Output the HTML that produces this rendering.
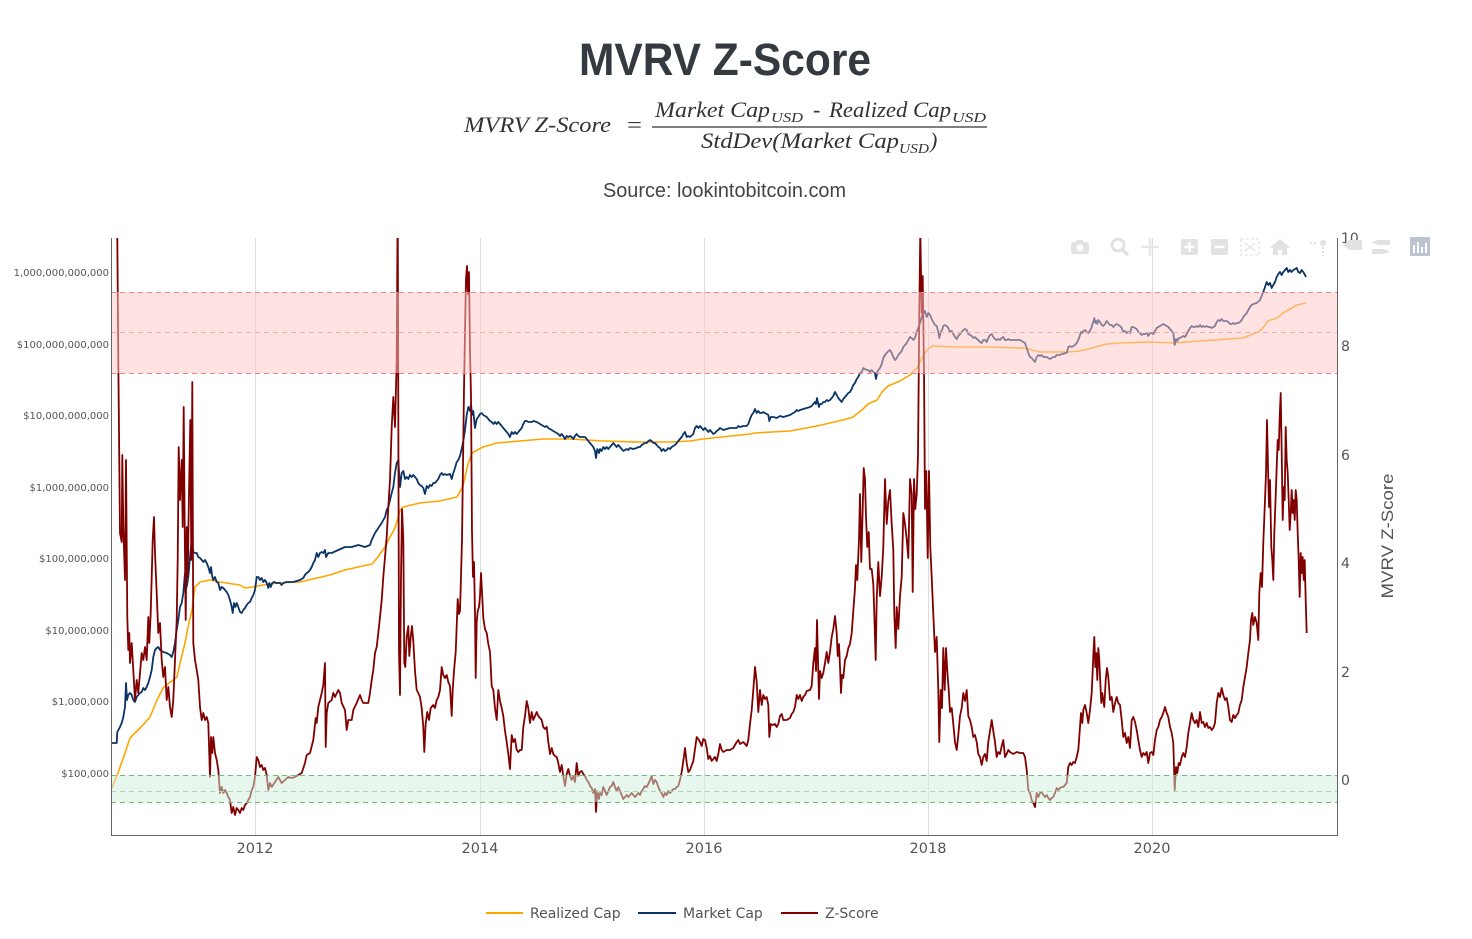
<!DOCTYPE html>
<html><head><meta charset="utf-8"><style>
html,body{margin:0;padding:0;background:#fff;}
svg{display:block;}
</style></head><body>
<svg width="1472" height="939" viewBox="0 0 1472 939" xmlns="http://www.w3.org/2000/svg">
<defs><clipPath id="pc"><rect x="111" y="238" width="1226" height="597"/></clipPath></defs>
<rect width="1472" height="939" fill="#fff"/>
<!-- Title & formula -->
<text x="579" y="75" font-family="'Liberation Sans',sans-serif" font-weight="bold" font-size="45" fill="#343a40" textLength="292" lengthAdjust="spacingAndGlyphs">MVRV Z-Score</text>
<g font-family="'Liberation Serif',serif" font-style="italic" fill="#333">
<text x="464" y="132" font-size="22" textLength="147" lengthAdjust="spacingAndGlyphs">MVRV Z-Score</text>
<text x="627" y="132" font-size="22" font-style="normal" textLength="15" lengthAdjust="spacingAndGlyphs">=</text>
<text x="655" y="117" font-size="22" textLength="115" lengthAdjust="spacingAndGlyphs">Market Cap</text>
<text x="771" y="122" font-size="14" textLength="32" lengthAdjust="spacingAndGlyphs">USD</text>
<text x="813" y="117" font-size="22">-</text>
<text x="829" y="117" font-size="22" textLength="122" lengthAdjust="spacingAndGlyphs">Realized Cap</text>
<text x="952" y="122" font-size="14" textLength="34" lengthAdjust="spacingAndGlyphs">USD</text>
<text x="701" y="148" font-size="22" textLength="198" lengthAdjust="spacingAndGlyphs">StdDev(Market Cap</text>
<text x="899" y="153" font-size="14" textLength="30" lengthAdjust="spacingAndGlyphs">USD</text>
<text x="930" y="148" font-size="22">)</text>
</g>
<line x1="652" y1="127" x2="987" y2="127" stroke="#333" stroke-width="1.3"/>
<text x="603" y="197" font-family="'Liberation Sans',sans-serif" font-size="20" fill="#444" textLength="243" lengthAdjust="spacingAndGlyphs">Source: lookintobitcoin.com</text>

<!-- gridlines -->
<g stroke="#dcdcdc" stroke-width="1">
<line x1="255.5" y1="238" x2="255.5" y2="835"/>
<line x1="480.5" y1="238" x2="480.5" y2="835"/>
<line x1="704.5" y1="238" x2="704.5" y2="835"/>
<line x1="928.5" y1="238" x2="928.5" y2="835"/>
<line x1="1152.5" y1="238" x2="1152.5" y2="835"/>
</g>

<g clip-path="url(#pc)" fill="none" stroke-linejoin="round">
<!-- Realized Cap -->
<polyline stroke="#ffa500" stroke-width="1.6" points="111.7,788 118,773 125,753 130,738 135,733 143,725 150,717 157,700 163,688 173,680 177,677 180,663 185,643 188,627 192,610 195,587 200,582 210,580 220,582 233,584 240,585 245,588 253,587 263,585 277,583 300,582 317,578 330,575 345,570 358,567 372,564 378,557 385,547 390,537 395,528 400,511 403,507 420,503 440,501 457,497 463,486 468,464 472,453 483,447 497,443 520,441 543,439 570,439 603,441 637,442 670,442 690,441 703,439 750,434 755,433 790,431 817,426 847,419 853,417 863,409 868,404 877,400 882,392 888,386 900,381 910,375 917,368 922,358 927,350 932,346 957,347 990,347 1023,348 1028,349 1040,352 1067,352 1080,351 1107,344 1120,343 1150,342 1173,343 1200,341 1243,338 1258,332 1262,329 1268,321 1277,318 1283,313 1297,305 1306,303"/>
<!-- Market Cap -->
<polyline stroke="#0b3466" stroke-width="1.8" points="111.7,743 116.7,743 117.3,732 120,727 121.7,723 123.3,717 125,707 126,683 127,700 128.3,695 130,693 131.7,695 133.3,700 135,702 136.7,697 138.3,695 140,693 141.7,692 143.3,688 145,690 146.7,687 148.3,683 150,677 151.7,670 153.3,657 155,650 156.7,648 158.3,647 160,650 163.3,652 166.7,653 170,655 171.7,657 173.3,652 175,643 176.7,630 178.3,620 180,607 181.7,603 183.3,593 185,573 186.7,587 188.3,577 190,557 191.7,540 193.3,552 195,553 196.7,553 198.3,557 200,558 201.7,560 203.3,562 205,560 206.7,563 208.3,567 210,573 211,567 212.3,577 213.3,580 215,577 216.7,582 218.3,583 220,590 221.7,587 223.3,588 225,590 226.7,592 228.3,595 230,600 231.7,607 232.7,613 234,603 235.3,607 236.7,603 238.3,607 240,612 241.7,613 243.3,610 245,608 246.7,605 248.3,603 250,602 251.7,598 253.3,595 255,590 256.7,577 258.3,577 260,580 261.7,578 263.3,582 265,580 266.7,583 268.3,588 269.3,583 270.7,587 272.3,583 274,582 276.7,583 280,583 281.7,585 283.3,583 286.7,582 290,582 293.3,582 296.7,581 300,580 303.3,578 305,575 306.7,573 308.3,572 310,570 311.7,567 313.3,563 315,560 316.7,553 318.3,557 320,553 321.7,552 323.3,553 325,550 326,557 328.3,553 331.7,553 338.3,550 345,547 351.7,547 358.3,545 365,547 370,545 371.7,540 375,533 378.3,528 381.7,523 385,517 386.7,510 388.3,507 390,500 391.7,493 393.3,487 395,473 396.7,463 398.3,460 400,487 401.7,473 403.3,471 405,479 406.7,477 408.3,479 410,475 411.7,477 413.3,475 416.7,479 418.3,483 420,485 421.7,486 423.3,488 425,494 426.7,486 428.3,488 430,485 431.7,486 433.3,483 435,483 436.7,481 438.3,479 440,475 441.7,473 443.3,475 445,474 446.7,475 450,474 451.7,479 453.3,473 455,468 456.7,462 458.3,460 460,456 461.7,449 463.3,441 465,430 466.7,415 468.3,407 470,411 471,404 472,415 473.3,411 475,428 476.7,419 478.3,417 480,414 481.7,413 483.3,415 485,416 486.7,417 488.3,419 490,421 491.7,422 493.3,424 495,422 496.7,424 498.3,422 500,424 501.7,426 503.3,428 505,430 506.7,432 508.3,434 510,437 511.7,432 513.3,434 515,432 516.7,434 518.3,432 520,430 521.7,428 523.3,424 525,421 526.7,421 528.3,422 530,422 531.7,422 533.3,421 536.7,422 538.3,423 540,424 541.7,425 543.3,426 545,427 546.7,426 548.3,428 550,429 551.7,430 553.3,431 555,432 556.7,433 558.3,434 560,436 561.7,434 563.3,436 565,439 566.7,436 568.3,437 570,436 571.7,437 573.3,439 575,436 576.7,434 578.3,436 580,437 581.7,437 583.3,437 585,437 586.7,439 588.3,441 590,443 591.7,445 593.3,447 595,451 596,458 597.3,449 599,453 600,449 601.7,451 603.3,447 605,449 606.7,447 608.3,449 610,447 611.7,445 613.3,443 615,445 616.7,447 618.3,445 620,447 621.7,449 623.3,451 625,450 626.7,449 628.3,450 630,448 633.3,449 636.7,448 638.3,447 640,447 641.7,445 643.3,444 645,443 646.7,443 648.3,441 650,440 651.7,441 653.3,443 655,443 656.7,445 658.3,447 660,448 661.7,451 663.3,449 665,451 666.7,450 668.3,448 670,449 671.7,447 673.3,446 675,445 676.7,443 678.3,441 680,439 681.7,437 683.3,434 685,432 686.7,437 688.3,436 690,437 693.3,434 695,428 696.7,426 698.3,428 700,426 701.7,428 703.3,430 705,428 706.7,430 708.3,432 710,430 711.7,432 713.3,434 715,433 716.7,431 718.3,430 720,428 721.7,429 723.3,430 726.7,429 730,428 733.3,428 736.7,428 738.3,426 740,427 743.3,426 746.7,426 748.3,424 750,419 751.7,415 753.3,413 755,409 756.7,413 758.3,411 760,413 761.7,413 763.3,412 765,413 766.7,414 768.3,415 769.3,421 770.7,417 773.3,417 776.7,418 780,416 783.3,417 786.7,416 790,415 793.3,413 795,412 796.7,410 798.3,411 800,410 803.3,409 806.7,408 810,407 811.7,406 813.3,404 815,402 816,404 817,398 818,403 819,407 820,404 821.7,404 823.3,402 825,402 826.7,400 828.3,401 830,400 831.7,398 833.3,396 835,392 836.7,395 838.3,398 840,400 841.7,402 843.3,399 845,397 846.7,395 848.3,393 850,392 851.7,389 853.3,385 855,383 856.7,379 858.3,377 860,373 861.7,372 863.3,368 865,369 866.7,370 868.3,370 870,372 871.7,370 873.3,372 875,373 876,379 877.3,372 878.3,370 880,368 881.7,364 883.3,358 885,355 886.7,353 888.3,351 890,350 891.7,353 893.3,357 895,360 896.7,358 898.3,355 900,353 901.7,351 903.3,347 905,345 906.7,343 908.3,340 910,337 911.7,338 913.3,340 915,338 916.7,332 918.3,328 920,323 921.7,317 923.3,313 925,311 926.7,317 928.3,313 930,315 931.7,319 933.3,322 935,325 936.7,326 938.3,332 939.3,338 940.7,332 942,330 943.3,326 945,325 946.7,326 948.3,328 950,332 951.7,331 953.3,334 955,337 956.7,339 958.3,336 960,334 961.7,332 963.3,330 965,329 966.7,330 968.3,334 970,335 971.7,336 973.3,338 975,337 976.7,339 978.3,340 980,342 981.7,343 983.3,340 985,340 986.7,342 988.3,338 990,335 991.7,334 993.3,337 995,339 996.7,340 998.3,339 1000,340 1001.7,338 1003.3,337 1005,340 1006.7,340 1008.3,339 1010,340 1013.3,340 1016.7,340 1020,340 1023.3,342 1025,343 1026.7,348 1028.3,353 1030,357 1031.7,358 1033.3,360 1035,362 1036.7,357 1038.3,355 1040,356 1041.7,355 1043.3,357 1045,357 1046.7,357 1048.3,358 1050,359 1051.7,358 1053.3,357 1055,357 1056.7,355 1058.3,355 1060,355 1061.7,354 1063.3,354 1065,353 1066.7,353 1068.3,347 1070,346 1071.7,347 1073.3,346 1075,345 1076.7,343 1078.3,340 1080,335 1081,332 1082.3,333 1083.3,331 1085,330 1086.7,332 1088.3,333 1090,331 1091.7,327 1092.7,323 1093.7,321 1094.3,318 1095.3,323 1096.3,321 1097.3,324 1098.3,320 1100,322 1101.7,325 1103.3,326 1105,324 1106.7,321 1108.3,323 1110,325 1111.7,325 1113.3,327 1115,325 1116.7,324 1118.3,325 1120,326 1121.7,328 1123.3,332 1125,331 1126.7,333 1128.3,332 1130,333 1131.7,327 1133.3,327 1135,328 1136.7,329 1138.3,332 1140,333 1141.7,335 1143.3,334 1145,334 1146.7,333 1148.3,336 1150,333 1151.7,333 1153.3,334 1155,331 1156.7,328 1158.3,327 1160,326 1161.7,325 1163.3,324 1165,325 1166.7,326 1168.3,327 1170,329 1171.7,331 1173.3,333 1174.7,345 1176,339 1177.3,341 1178.7,338 1180,338 1181.7,337 1183.3,336 1185,337 1186.7,334 1188.3,331 1190,328 1191.7,326 1193.3,327 1195,327 1196.7,326 1198.3,327 1200,325 1201.7,327 1203.3,326 1205,327 1206.7,326 1208.3,327 1210,327 1211.7,328 1213.3,327 1215,326 1216.7,322 1218.3,320 1220,321 1221.7,319 1223.3,321 1225,321 1226.7,321 1228.3,322 1230,324 1231.7,324 1233.3,323 1235,324 1236.7,323 1238.3,323 1240,322 1241.7,320 1243.3,317 1245,315 1246.7,313 1248.3,310 1250,307 1251.7,305 1253.3,304 1256.7,303 1260,300 1263.3,292 1265,287 1266.7,282 1268.3,285 1270,283 1271.7,288 1273.3,285 1275,282 1276.7,277 1278.3,274 1280,272 1281.7,275 1283.3,272 1285,270 1286.7,268 1288.3,272 1290,270 1291.7,272 1293.3,270 1295,269 1296.7,268 1298.3,272 1300,273 1301.7,270 1303.3,272 1305,275 1306,277"/>
<!-- Z-Score -->
<polyline stroke="#800000" stroke-width="1.8" points="112,150 117,200 118.3,360 120,533 121.7,542 122.3,455 123.3,527 125,580 126,460 127.3,617 128.3,650 129.3,633 130,663 131.7,643 133.3,670 135,700 136.7,680 138.3,693 140,673 141.7,653 143.3,660 145,647 146.7,660 148.3,617 149.3,643 150.7,613 151.7,577 152.7,540 154,517 155,553 156.7,593 158.3,633 160,623 161.7,660 163.3,677 165,667 166.7,700 168.3,687 170,707 171.7,717 173.3,700 175,660 176.7,620 177.7,560 178.7,447 180,500 181.7,460 182.7,527 183.7,407 184.7,527 185.7,620 186.7,527 187.7,577 189,493 190.3,420 191.3,560 192.3,382 193.3,643 195,660 196.7,670 198.3,680 200,707 201.7,720 203.3,713 205,720 206.7,717 208.3,723 210,777 211,737 212.3,753 213.3,737 215,753 216.7,760 218.3,770 220,793 221.7,787 223.3,793 225,790 226.7,793 228.3,797 230,800 231.7,813 233.3,807 235,815 236.7,808 238.3,810 240,813 241.7,808 243.3,810 245,805 246.7,803 248.3,800 250,797 251.7,790 253.3,787 255,777 256.7,757 258.3,760 260,767 261.7,765 263.3,770 265,768 266.7,775 268.3,790 270,783 271.7,787 275,782 278.3,777 281.7,783 285,780 288.3,777 291.7,778 295,777 298.3,775 301.7,773 305,763 306.7,755 310,753 313.3,740 315.7,718 316.7,723 318.3,707 320,700 321.7,693 323.3,685 325,663 325.7,747 326.7,713 328.3,703 331.7,700 333.3,693 335,697 338.3,690 340,693 341.7,703 345,710 346.7,730 348.3,720 351.7,720 353.3,710 356.7,703 360,695 361.7,700 363.3,703 368.3,703 370,693 371.7,680 373.3,670 375,653 376.7,647 378.3,633 380,617 381.7,600 383.3,577 385,557 386.7,537 388.3,507 390,480 391.7,427 393.3,397 395,427 396.7,360 397.7,200 399,652 400,695 401,577 402,509 403.3,539 404.3,663 405.3,667 406.7,637 408.3,626 409.3,656 410.7,637 412,626 413.3,641 415,671 416.7,690 418.3,693 420,697 421.7,708 423.3,727 424.3,752 425.7,723 427.3,712 429,720 430.7,708 433.3,705 435,708 436.7,700 438.3,697 440,690 441.7,667 443.3,675 445,678 446.7,675 448.3,682 450,686 451.7,716 452.7,690 454,671 455.7,652 456.7,626 457.7,599 459,614 460,611 461,577 462,539 463,464 464,389 465,332 466,279 467,266 468,294 469,272 470,351 471,396 472,532 473,577 474,562 475,614 475.7,678 476.7,622 477.7,611 479,607 480,596 481,573 482,592 483.3,618 485,629 486.7,633 488.3,644 490,652 491.7,686 493.3,690 495,708 496.7,720 498.3,690 500,701 501.7,708 503.3,716 505,731 506.7,742 508.3,754 510,769 511.7,735 513.3,742 515,739 516.7,750 518.3,752 520,750 521.7,750 523.3,727 525,716 526.7,701 528.3,708 530,723 531.7,712 533.3,720 535,716 536.7,712 538.3,716 540,718 541.7,720 543.3,727 545,729 546.7,727 548.3,742 550,754 551.7,748 553.3,754 555,756 556.7,757 558.3,763 560,772 561.7,765 563.3,776 565,786 566.7,774 568.3,769 570,776 571.7,780 573.3,776 575,782 576.7,763 578.3,776 580,772 581.7,771 583.3,774 585,776 586.7,780 588.3,782 590,786 591.7,788 593.3,793 595,789 596,812 597.3,791 599,799 600,793 601.7,795 603.3,787 605,791 606.7,795 608.3,791 610,787 611.7,786 613.3,782 615,787 616.7,791 618.3,787 620,791 621.7,795 623.3,799 625,797 626.7,795 628.3,797 630,795 631.7,793 633.3,795 635,797 636.7,795 638.3,793 640,795 641.7,791 643.3,789 645,786 646.7,787 648.3,784 650,780 651.7,776 653.3,784 655,780 656.7,782 658.3,787 660,791 661.7,793 663.3,797 665,793 666.7,795 668.3,791 670,793 671.7,791 673.3,789 675,789 676.7,787 678.3,786 680,780 681.7,772 683.3,761 685,748 686.7,763 688.3,772 690,770 693.3,761 696.7,737 698.3,739 700,742 701.7,746 703.3,739 705,740 706.7,748 708.3,759 710,756 711.7,761 713.3,759 715,757 716.7,761 718.3,754 720,744 721.7,750 723.3,752 726.7,750 730,750 733.3,748 736.7,742 738.3,740 740,744 743.3,742 746.7,746 748.3,740 750,724 751.7,710 753.3,690 755,667 756.7,682 758.3,712 760,690 761.7,705 763.3,695 765,699 766.7,697 768.3,705 769.3,737 770.7,724 772.7,725 775,724 776.7,727 778.3,724 780,716 781.7,714 783.3,720 786.7,720 790,718 791.7,714 793.3,712 795,707 796.7,695 798.3,699 800,695 801.7,701 803.3,697 805,695 806.7,691 810,690 811.7,686 813.3,663 815,648 816,671 817,620 818,660 819,699 820,671 821.7,678 823.3,673 825,663 826.7,652 828.3,663 830,652 831.7,637 833.3,629 835,616 836.7,633 837.7,656 839,644 840,667 841,693 842,675 843.3,678 845,660 846.7,656 848.3,648 850,644 851.7,633 853.3,611 855,588 856,565 857.3,580 859,539 860,494 861.3,562 862.7,509 863.7,468 865,479 866,517 867.3,547 868.7,532 870,569 871.7,569 873.3,584 874.3,614 875.7,660 876.7,599 878.3,562 880,596 881.7,577 883.3,547 885,479 886.7,524 888.3,501 890,490 891.7,524 893.3,550 894.3,614 895.7,648 896.7,607 898.3,629 900,596 901.7,577 903.3,513 905,524 906.7,539 908.3,558 910,479 911.7,494 912.7,592 914,479 915.3,509 916.7,494 918,456 919.3,313 920.3,230 921.7,313 922.7,276 924,370 925,509 926.3,471 927.7,558 929,471 930.3,547 931.7,577 933.3,614 935,652 936.7,637 938.3,690 939.3,742 940.7,690 942,708 943.3,648 944.7,690 946,648 947.3,671 948.7,690 950,712 951.7,708 953.3,724 955,742 956.7,750 958.3,735 960,716 961.7,708 963.3,693 965,701 966.7,690 968.3,716 970,720 971.7,727 973.3,737 975,735 976.7,742 978.3,754 980,757 981.7,765 983.3,757 985,754 986.7,761 988.3,742 990,731 991.7,720 993.3,731 995,742 996.7,757 998.3,752 1000,754 1001.7,746 1003.3,740 1005,757 1006.7,754 1008.3,750 1010,752 1013.3,754 1016.7,752 1020,753 1023.3,753 1025,757 1026.7,770 1028.3,790 1030,793 1031.7,800 1033.3,803 1035,807 1036.7,793 1038.3,797 1040,793 1041.7,792 1043.3,795 1045,797 1046.7,795 1048.3,798 1050,800 1051.7,798 1053.3,797 1055,793 1056.7,788 1058.3,790 1060,788 1061.7,787 1063.3,787 1065,785 1066.7,783 1068.3,767 1070,763 1071.7,765 1073.3,762 1075,763 1076.7,757 1078.3,750 1080,727 1081,713 1082.3,723 1083.3,710 1085,705 1086.7,713 1088.3,723 1090,710 1091.7,693 1092.7,670 1093.7,647 1094.3,637 1095.3,667 1096.3,653 1097.3,680 1098.3,648 1099.3,660 1100.3,683 1101.3,703 1102.3,693 1103.3,700 1104.3,707 1105.7,680 1107,668 1108.3,677 1110,700 1111.7,697 1113.3,712 1115,703 1116.7,697 1118.3,703 1120,705 1121.7,720 1123.3,737 1125,733 1126.7,743 1128.3,737 1130,748 1131.7,720 1133.3,717 1135,722 1136.7,730 1138.3,740 1140,750 1141.7,757 1143.3,753 1145,755 1146.7,752 1148.3,763 1150,753 1151.7,752 1153.3,755 1155,740 1156.7,730 1158.3,727 1160,720 1161.7,717 1163.3,713 1165,707 1166.7,713 1168.3,717 1170,727 1171.7,733 1173.3,743 1174.7,790 1176,767 1177.3,773 1178.7,763 1180,765 1181.7,757 1183.3,753 1185,757 1186.7,747 1188.3,733 1190,723 1191.7,713 1193.3,720 1195,723 1196.7,720 1198.3,727 1200,712 1201.7,723 1203.3,722 1205,727 1206.7,723 1208.3,728 1210,727 1211.7,730 1213.3,728 1215,723 1216.7,703 1218.3,693 1220,697 1221.7,688 1223.3,695 1225,700 1226.7,698 1228.3,707 1230,720 1231.7,722 1233.3,715 1235,718 1236.7,715 1238.3,713 1240,705 1241.7,700 1243.3,687 1245,677 1246.7,667 1248.3,653 1250,640 1251,620 1252.3,613 1253.3,625 1255,617 1256.7,623 1258.3,640 1259.3,593 1260.7,573 1262,587 1263.3,543 1265,500 1266,473 1267,420 1268,467 1269,507 1270,480 1271.3,547 1272.3,560 1273.3,580 1274.3,533 1275.3,507 1276.7,467 1277.7,440 1278.7,450 1279.7,417 1280.7,393 1281.7,453 1282.7,520 1283.7,487 1284.7,500 1285.7,427 1286.7,460 1287.7,473 1288.7,500 1289.7,530 1290.7,513 1291.7,490 1292.7,513 1293.7,500 1294.7,520 1295.7,490 1296.7,500 1297.7,533 1298.7,560 1299.7,597 1300.7,553 1301.7,573 1302.7,557 1303.7,580 1304.7,560 1305.7,600 1306.7,633"/>
</g>

<!-- Bands (drawn above the traces) -->
<rect x="111" y="292" width="1226" height="81" fill="#ffc8c8" fill-opacity="0.5"/>
<rect x="111" y="775" width="1226" height="27" fill="#d0efdc" fill-opacity="0.5"/>
<g stroke-width="1" stroke-dasharray="5,4" fill="none">
<line x1="111" y1="292.5" x2="1337" y2="292.5" stroke="#f08585"/>
<line x1="111" y1="332.5" x2="1337" y2="332.5" stroke="#f5aaaa"/>
<line x1="111" y1="373.5" x2="1337" y2="373.5" stroke="#f08585"/>
<line x1="111" y1="775.5" x2="1337" y2="775.5" stroke="#6abf7a"/>
<line x1="111" y1="791.5" x2="1337" y2="791.5" stroke="#a8d8b2"/>
<line x1="111" y1="802.5" x2="1337" y2="802.5" stroke="#6abf7a"/>
</g>

<!-- Axes -->
<g stroke="#666" stroke-width="1">
<line x1="111.5" y1="238" x2="111.5" y2="836"/>
<line x1="1337.5" y1="238" x2="1337.5" y2="836"/>
<line x1="111" y1="835.5" x2="1338" y2="835.5"/>
</g>

<!-- Left tick labels -->
<g font-family="'DejaVu Sans',sans-serif" font-size="10" fill="#555" text-anchor="end">
<text x="109" y="276">1,000,000,000,000</text>
<text x="109" y="348">$100,000,000,000</text>
<text x="109" y="419">$10,000,000,000</text>
<text x="109" y="491">$1,000,000,000</text>
<text x="109" y="562">$100,000,000</text>
<text x="109" y="634">$10,000,000</text>
<text x="109" y="705">$1,000,000</text>
<text x="109" y="777">$100,000</text>
</g>
<!-- X tick labels -->
<g font-family="'DejaVu Sans',sans-serif" font-size="14.5" fill="#555" text-anchor="middle">
<text x="255" y="853">2012</text>
<text x="480" y="853">2014</text>
<text x="704" y="853">2016</text>
<text x="928" y="853">2018</text>
<text x="1152" y="853">2020</text>
</g>
<!-- Right tick labels -->
<g font-family="'DejaVu Sans',sans-serif" font-size="14" fill="#555">
<text x="1341" y="243">10</text>
<text x="1341" y="351">8</text>
<text x="1341" y="460">6</text>
<text x="1341" y="568">4</text>
<text x="1341" y="677">2</text>
<text x="1341" y="785">0</text>
</g>
<text transform="translate(1393,536) rotate(-90)" text-anchor="middle" font-family="'Liberation Sans',sans-serif" font-size="17" fill="#555" textLength="125" lengthAdjust="spacingAndGlyphs">MVRV Z-Score</text>

<!-- Modebar -->
<g fill="#e2e2e2" stroke="none">
<rect x="1071" y="242" width="18" height="12" rx="2"/><rect x="1076" y="240" width="7" height="3"/><circle cx="1080" cy="248" r="3.5" fill="#fff"/>
<circle cx="1118" cy="245" r="6" fill="none" stroke="#e2e2e2" stroke-width="3"/><line x1="1122" y1="249" x2="1128" y2="255" stroke="#e2e2e2" stroke-width="3.5"/>
<path d="M1150 238 L1150 256 M1141 247 L1159 247" stroke="#e8e8e8" stroke-width="2.5"/>
<rect x="1181" y="239" width="17" height="16" rx="2"/><path d="M1189.5 242 V252 M1184.5 247 H1194.5" stroke="#fff" stroke-width="2.5"/>
<rect x="1211" y="239" width="17" height="16" rx="2"/><path d="M1214.5 247 H1224.5" stroke="#fff" stroke-width="2.5"/>
<rect x="1241" y="239" width="18" height="16" fill="none" stroke="#e8e8e8" stroke-width="1.5" stroke-dasharray="3,2"/><path d="M1245 243 L1255 251 M1255 243 L1245 251" stroke="#e8e8e8" stroke-width="1.5"/>
<path d="M1280 239 L1290 248 L1287 248 L1287 255 L1282 255 L1282 250 L1278 250 L1278 255 L1273 255 L1273 248 L1270 248 Z"/>
<circle cx="1323" cy="243" r="3"/><path d="M1310 243 H1318 M1323 247 V256" stroke="#e2e2e2" stroke-width="2" stroke-dasharray="2,2"/>
<path d="M1349 240 H1362 V250 H1349 L1343 245 Z"/>
<path d="M1378 240 H1390 V245 H1378 L1372 242.5 Z M1372 249 H1384 L1390 251.5 L1384 254 H1372 Z"/>
<rect x="1410" y="237" width="20" height="19" fill="#bcc4d0"/>
<g fill="#fff"><rect x="1413" y="245" width="2" height="8"/><rect x="1417" y="242" width="2" height="11"/><rect x="1421" y="247" width="2" height="6"/><rect x="1425" y="243" width="2" height="10"/></g>
</g>

<!-- Legend -->
<g font-family="'DejaVu Sans',sans-serif" font-size="14" fill="#555">
<line x1="486" y1="913" x2="523" y2="913" stroke="#ffa500" stroke-width="2"/>
<text x="530" y="918">Realized Cap</text>
<line x1="638" y1="913" x2="676" y2="913" stroke="#0b3466" stroke-width="2"/>
<text x="683" y="918">Market Cap</text>
<line x1="781" y1="913" x2="818" y2="913" stroke="#800000" stroke-width="2"/>
<text x="825" y="918">Z-Score</text>
</g>
</svg>
</body></html>
